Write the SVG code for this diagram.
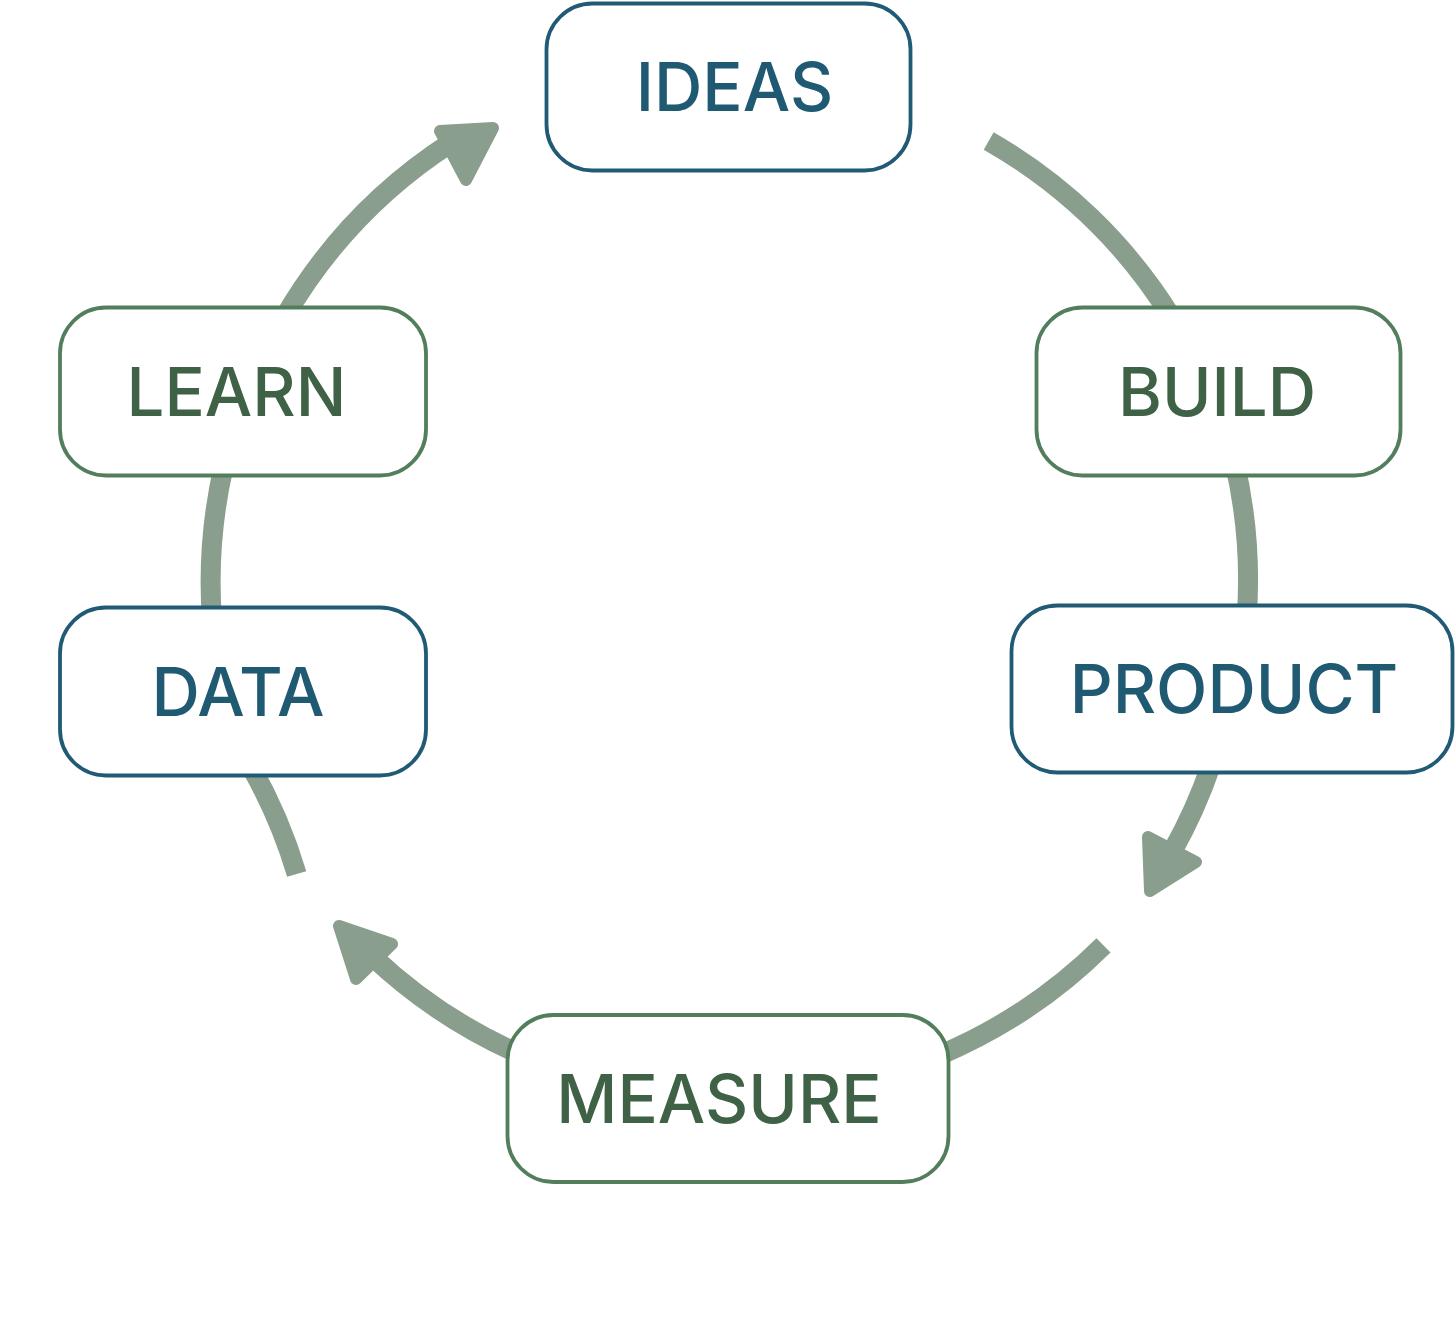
<svg xmlns="http://www.w3.org/2000/svg" width="1456" height="1335" viewBox="0 0 1456 1335">
<style>
.bg{fill:#ffffff}
.arc{fill:none;stroke:#8a9e8d;stroke-width:20;stroke-linecap:butt}
.head{fill:#8a9e8d;stroke:#8a9e8d;stroke-width:12;stroke-linejoin:round}
.box{fill:#ffffff;stroke-width:3.8}
.blue .box{stroke:#215a75}
.green .box{stroke:#527e5c}
.lbl{font-family:Inter,"Liberation Sans",sans-serif;font-size:67px;font-weight:500;text-anchor:middle}
.blue .lbl{fill:#1f5a72}
.green .lbl{fill:#3f6146}
</style>
<rect class="bg" x="0" y="0" width="1456" height="1335"/>
<g id="connectors">
  <path class="arc" d="M 988.7 141 A 518 518 0 0 1 1172 318"/>
  <path class="arc" d="M 1234 460 A 518 518 0 0 1 1246.5 620"/>
  <path class="arc" d="M 1211 765 A 518 518 0 0 1 1172 852"/>
  <polygon class="head" points="1150,891 1196,862 1148,837"/>
  <path class="arc" d="M 1103.5 945.3 A 518 518 0 0 1 940 1055"/>
  <path class="arc" d="M 515 1052 A 518 518 0 0 1 372 956"/>
  <polygon class="head" points="339,926 392,944 356,979"/>
  <path class="arc" d="M 250 765 A 518 518 0 0 1 296.7 874"/>
  <path class="arc" d="M 212 620 A 518 518 0 0 1 224 465"/>
  <path class="arc" d="M 284 318 A 518 518 0 0 1 452 142"/>
  <polygon class="head" points="440,131 493,128 466,180"/>
</g>
<g id="node-ideas" class="blue">
  <rect class="box" x="546.5" y="3.5" width="364" height="167" rx="46"/>
  <text class="lbl" x="734.5" y="111">IDEAS</text>
</g>
<g id="node-build" class="green">
  <rect class="box" x="1036.5" y="307.5" width="364" height="168" rx="46"/>
  <text class="lbl" x="1217" y="416">BUILD</text>
</g>
<g id="node-product" class="blue">
  <rect class="box" x="1011.5" y="605.5" width="441" height="167" rx="46"/>
  <text class="lbl" x="1234" y="713">PRODUCT</text>
</g>
<g id="node-measure" class="green">
  <rect class="box" x="507.5" y="1015" width="441" height="167" rx="46"/>
  <text class="lbl" x="719" y="1123">MEASURE</text>
</g>
<g id="node-data" class="blue">
  <rect class="box" x="60" y="607.5" width="366" height="168" rx="46"/>
  <text class="lbl" x="238" y="716">DATA</text>
</g>
<g id="node-learn" class="green">
  <rect class="box" x="60" y="307.5" width="366" height="168" rx="46"/>
  <text class="lbl" x="236.5" y="416">LEARN</text>
</g>
</svg>
